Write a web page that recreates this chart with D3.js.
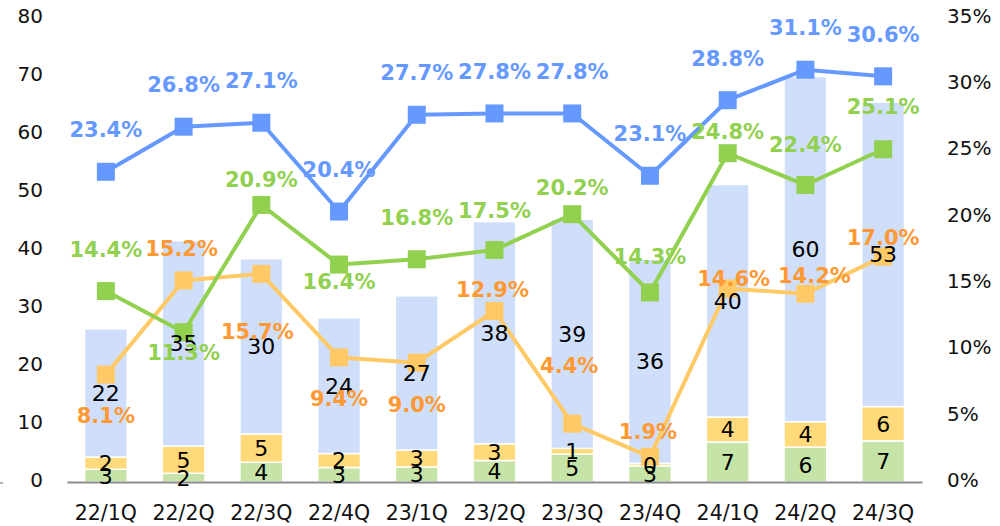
<!DOCTYPE html>
<html>
<head>
<meta charset="utf-8">
<script src="https://cdn.jsdelivr.net/npm/d3@7"></script>
<style>
   html, body { margin: 0; padding: 0; background: #fff; }
   svg text { font-family: "DejaVu Sans", Verdana, sans-serif; }
</style>
</head>
<body>
<div id="chartDiv"></div>
<script>
//----------------------------------------------------------------------------------------------------
// data
var categories = ["22/1Q", "22/2Q", "22/3Q", "22/4Q", "23/1Q", "23/2Q", "23/3Q", "23/4Q", "24/1Q", "24/2Q", "24/3Q"];

   // stacked bars, bottom to top (heights as drawn), and the numbers printed on them
var greenBar  = [2.2, 1.5, 3.4, 2.5, 2.6, 3.7, 4.8, 2.8, 6.9, 6.0, 7.1];
var yellowBar = [2.1, 4.7, 4.9, 2.4, 2.9, 2.9, 1.0, 0.4, 4.3, 4.4, 5.9];
var blueBar   = [22.1, 35.4, 30.2, 23.4, 26.6, 38.3, 39.5, 35.2, 40.1, 59.5, 52.5];
var greenBarLabel  = [3, 2, 4, 3, 3, 4, 5, 3, 7, 6, 7];
var yellowBarLabel = [2, 5, 5, 2, 3, 3, 1, 0, 4, 4, 6];
var blueBarLabel   = [22, 35, 30, 24, 27, 38, 39, 36, 40, 60, 53];

   // rate lines, percent (right axis)
var blueRate   = [23.4, 26.8, 27.1, 20.4, 27.7, 27.8, 27.8, 23.1, 28.8, 31.1, 30.6];
var greenRate  = [14.4, 11.3, 20.9, 16.4, 16.8, 17.5, 20.2, 14.3, 24.8, 22.4, 25.1];
var orangeRate = [8.1, 15.2, 15.7, 9.4, 9.0, 12.9, 4.4, 1.9, 14.6, 14.2, 17.0];

var leftTicks  = [0, 10, 20, 30, 40, 50, 60, 70, 80];
var rightTicks = [0, 5, 10, 15, 20, 25, 30, 35];

//----------------------------------------------------------------------------------------------------
// label nudges (pixels from the marker), placed by hand in the original
var blueLabelDy   = [-42, -42, -42, -42, -42, -42, -42, -42, -42, -42, -42];
var greenLabelDy  = [-42, 20, -25, 17, -42, -40, -27, -36, -22, -41, -43];
var orangeLabelDy = [41, -32, 58, 41, 42, -22, -58, -25, -10, -18, -19];
var orangeLabelDx = [0, -2, -4, 0, 0, -2, -3, -2, 6, 9, 0];

var width = 1000, height = 526;

var svg = d3.select("#chartDiv")
    .append("svg")
    .attr("width", width)
    .attr("height", height);

var xScale = d3.scaleBand()
    .domain(categories)
    .range([67, 922])
    .paddingInner(0.45)
    .paddingOuter(0.225);

var yLeft = d3.scaleLinear().domain([0, 80]).range([482, 18]);
var yRight = d3.scaleLinear().domain([0, 35]).range([482, 18]);

function cx(i) { return xScale(categories[i]) + xScale.bandwidth() / 2; }

//----------------------------------------------------------------------------------------------------
// axes: tick labels only, no grid
var leftAxis = d3.axisLeft(yLeft).tickValues(leftTicks).tickSize(0).tickPadding(0);
var gL = svg.append("g")
    .attr("transform", "translate(43,0)")
    .call(leftAxis);
gL.select(".domain").remove();
gL.selectAll("text")
    .attr("font-size", 20)
    .attr("fill", "#111")
    .attr("dy", "0.32em")
    .attr("y", -2);

var rightAxis = d3.axisRight(yRight).tickValues(rightTicks).tickSize(0).tickPadding(0)
    .tickFormat(function(d){ return d + "%"; });
var gR = svg.append("g")
    .attr("transform", "translate(947,0)")
    .call(rightAxis);
gR.select(".domain").remove();
gR.selectAll("text")
    .attr("font-size", 20)
    .attr("fill", "#111")
    .attr("dy", "0.32em")
    .attr("y", -2);

//----------------------------------------------------------------------------------------------------
// stacked bars
var stackData = categories.map(function(c, i){
   return {cat: c, green: greenBar[i], yellow: yellowBar[i], blue: blueBar[i]};
});
var keys = ["green", "yellow", "blue"];
var barFill = {green: "#c6e4a8", yellow: "#ffd97a", blue: "#cfdefb"};
var series = d3.stack().keys(keys)(stackData);

svg.append("g").selectAll("g")
   .data(series)
   .enter()
   .append("g")
   .attr("fill", function(s){ return barFill[s.key]; })
   .selectAll("rect")
   .data(function(s){ return s; })
   .enter()
   .append("rect")
   .attr("x", function(d){ return xScale(d.data.cat); })
   .attr("width", xScale.bandwidth())
   .attr("y", function(d){ return yLeft(d[1]); })
   .attr("height", function(d){ return yLeft(d[0]) - yLeft(d[1]); })
   .attr("stroke", "#fff")
   .attr("stroke-width", 1.5);

   // category axis line
var xAxis = d3.axisBottom(xScale).tickSize(0).tickPadding(0);
var gX = svg.append("g")
    .attr("transform", "translate(0,482)")
    .call(xAxis);
gX.select(".domain").attr("stroke", "#8c8c8c").attr("stroke-width", 2.2);
gX.selectAll("text")
    .attr("font-size", 20.5)
    .attr("fill", "#111")
    .attr("y", 31)
    .attr("dy", "0.32em");

svg.append("line")
   .attr("x1", 0).attr("x2", 3)
   .attr("y1", 483).attr("y2", 483)
   .attr("stroke", "#9a9a9a").attr("stroke-width", 1.5);

//----------------------------------------------------------------------------------------------------
// rate lines with square markers
function drawRate(values, color)
{
   var line = d3.line()
       .x(function(d, i){ return cx(i); })
       .y(function(d){ return yRight(d); });

   svg.append("path")
      .datum(values)
      .attr("d", line)
      .attr("fill", "none")
      .attr("stroke", color)
      .attr("stroke-width", 4)
      .attr("stroke-linejoin", "round");

   svg.append("g").selectAll("rect")
      .data(values)
      .enter()
      .append("rect")
      .attr("x", function(d, i){ return cx(i) - 9; })
      .attr("y", function(d){ return yRight(d) - 9; })
      .attr("width", 18)
      .attr("height", 18)
      .attr("fill", color);

} // drawRate

drawRate(orangeRate, "#ffc966");
drawRate(greenRate, "#92d050");
drawRate(blueRate, "#6699ff");

//----------------------------------------------------------------------------------------------------
// bar labels, centered in each segment
var barLabels = {green: greenBarLabel, yellow: yellowBarLabel, blue: blueBarLabel};
series.forEach(function(s){
   svg.append("g").selectAll("text")
      .data(s)
      .enter()
      .append("text")
      .attr("x", function(d, i){ return cx(i); })
      .attr("y", function(d){ return (yLeft(d[0]) + yLeft(d[1])) / 2; })
      .attr("dy", "0.36em")
      .attr("text-anchor", "middle")
      .attr("font-size", 22)
      .attr("fill", "#000")
      .text(function(d, i){ return barLabels[s.key][i]; });
});

//----------------------------------------------------------------------------------------------------
// percent labels
function drawRateLabels(values, color, dys, dxs)
{
   svg.append("g").selectAll("text")
      .data(values)
      .enter()
      .append("text")
      .attr("x", function(d, i){ return cx(i) + (dxs ? dxs[i] : 0); })
      .attr("y", function(d, i){ return yRight(d) + dys[i]; })
      .attr("dy", "0.36em")
      .attr("text-anchor", "middle")
      .attr("font-size", 21)
      .attr("font-weight", "bold")
      .attr("fill", color)
      .text(function(d){ return d.toFixed(1) + "%"; });

} // drawRateLabels

drawRateLabels(blueRate, "#6699ff", blueLabelDy);
drawRateLabels(greenRate, "#92d050", greenLabelDy);
drawRateLabels(orangeRate, "#ff9933", orangeLabelDy, orangeLabelDx);

</script>
</body>
</html>
